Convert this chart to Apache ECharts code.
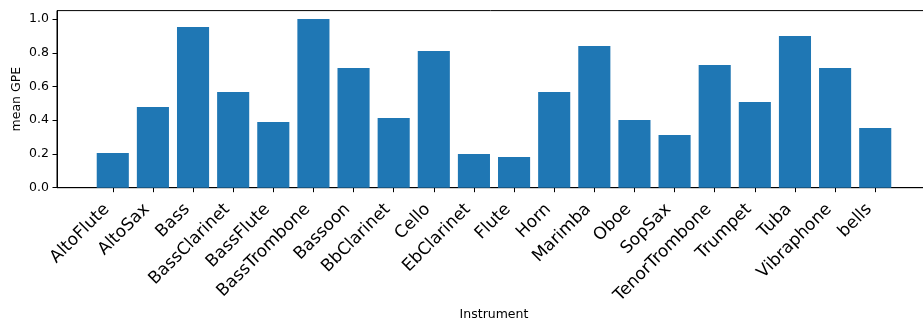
<!DOCTYPE html>
<html>
<head>
<meta charset="utf-8">
<script src="https://cdn.jsdelivr.net/npm/echarts@6/dist/echarts.min.js"></script>
<style>
  html, body { margin: 0; padding: 0; background: #fff; }
  #chart { width: 923px; height: 322px; }
</style>
</head>
<body>
<div id="chart"></div>
<script>
// Instruments and their mean GPE
const instruments = ['AltoFlute', 'AltoSax', 'Bass', 'BassClarinet', 'BassFlute', 'BassTrombone',
  'Bassoon', 'BbClarinet', 'Cello', 'EbClarinet', 'Flute', 'Horn', 'Marimba', 'Oboe', 'SopSax',
  'TenorTrombone', 'Trumpet', 'Tuba', 'Vibraphone', 'bells'];
const meanGPE = [0.206, 0.478, 0.953, 0.567, 0.389, 1.0, 0.710, 0.413, 0.810, 0.200, 0.182,
  0.567, 0.840, 0.401, 0.312, 0.727, 0.508, 0.899, 0.710, 0.354];
const yTicks = [0, 0.2, 0.4, 0.6, 0.8, 1.0];

const FONT = 'DejaVu Sans';
const LABEL_SIZE = 17;
const positions = instruments.map((_, i) => i);
// bar width 0.8 with 5% margins on the data range
const span = instruments.length - 1 + 0.8;
const xMin = -0.4 - 0.05 * span;
const xMax = instruments.length - 1 + 0.4 + 0.05 * span;

const chart = echarts.init(document.getElementById('chart'), null, { renderer: 'canvas' });
chart.setOption({
  animation: false,
  textStyle: { fontFamily: FONT },
  grid: {
    left: 57, top: 10.6, width: 874, height: 177.1,
    containLabel: false,
    outerBoundsMode: 'none',
    show: true, borderColor: '#000', borderWidth: 1, backgroundColor: 'transparent'
  },
  xAxis: {
    type: 'value',
    min: xMin, max: xMax,
    name: 'Instrument',
    nameLocation: 'middle',
    nameGap: 121,
    nameMoveOverlap: false,
    nameTextStyle: { fontFamily: FONT, fontSize: 12.5, color: '#000' },
    splitLine: { show: false },
    axisLine: { show: true, onZero: false, lineStyle: { color: '#000', width: 1 } },
    axisTick: { show: true, length: 4.5, lineStyle: { color: '#000' }, customValues: positions },
    axisLabel: {
      customValues: positions,
      rotate: 45,
      verticalAlign: 'bottom',
      margin: 13 + 0.707 * LABEL_SIZE,
      fontFamily: FONT, fontSize: LABEL_SIZE, color: '#000',
      formatter: v => instruments[Math.round(v)]
    }
  },
  yAxis: {
    type: 'value',
    min: 0, max: 1.05,
    name: 'mean GPE',
    nameLocation: 'middle',
    nameRotate: 90,
    nameGap: 34,
    nameMoveOverlap: false,
    nameTextStyle: { fontFamily: FONT, fontSize: 12.5, color: '#000' },
    splitLine: { show: false },
    axisLine: { show: true, onZero: false, lineStyle: { color: '#000', width: 1 } },
    axisTick: { show: true, length: 4.5, lineStyle: { color: '#000' }, customValues: yTicks },
    axisLabel: {
      customValues: yTicks,
      margin: 8,
      fontFamily: FONT, fontSize: 12.5, color: '#000',
      formatter: v => v.toFixed(1)
    }
  },
  series: [{
    type: 'bar',
    data: meanGPE.map((v, i) => [i, v]),
    barWidth: 32.1,
    itemStyle: { color: '#1f77b4' }
  }]
});
</script>
</body>
</html>
